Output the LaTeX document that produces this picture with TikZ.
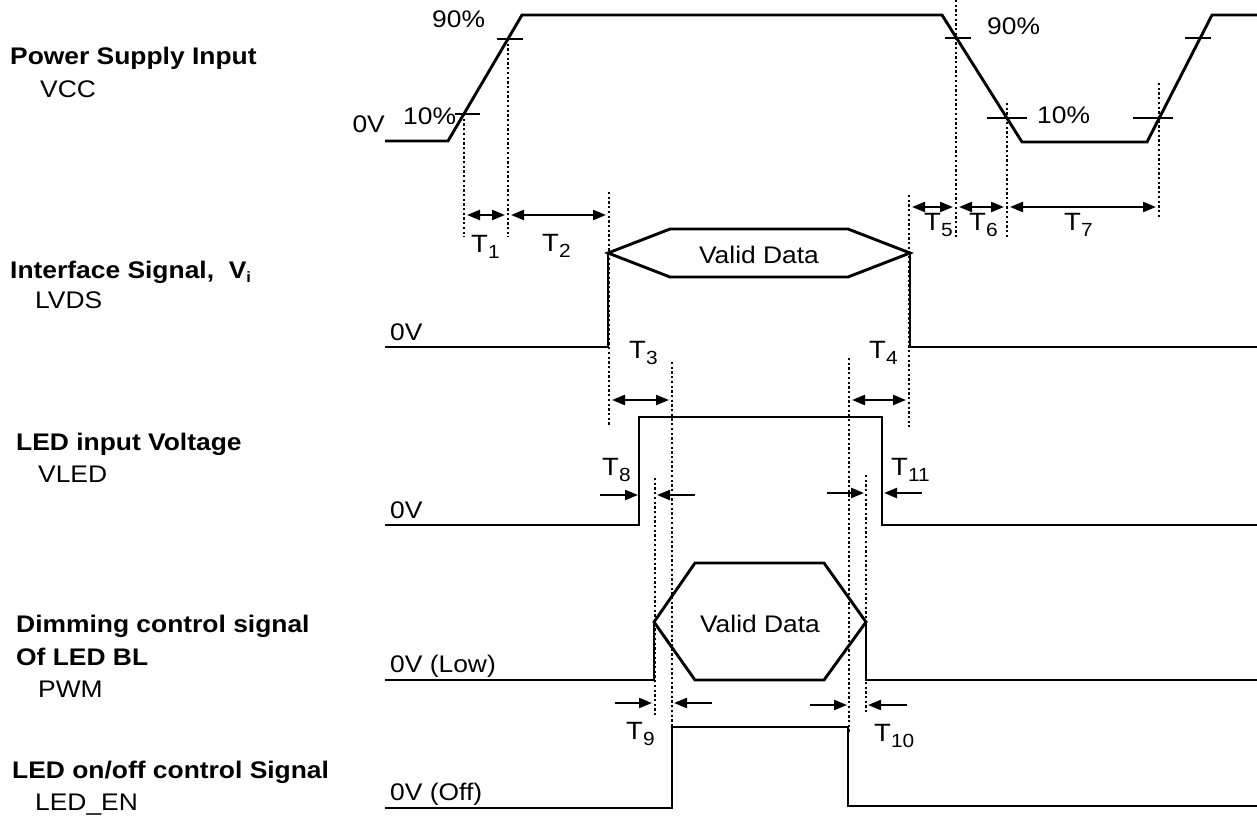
\documentclass[tikz,border=0pt]{standalone}
\usepackage{fontspec}
\setmainfont{Liberation Sans}[FakeStretch=1.1]
\usetikzlibrary{arrows.meta}
\newcommand{\Tl}[1]{{\fontsize{25}{28}\selectfont T}\raisebox{-6.5pt}{\fontsize{19}{19}\selectfont #1}}
\begin{document}
\begin{tikzpicture}[x=1pt,y=-1pt,
  sig/.style={line width=2.9pt, line join=miter},
  guide/.style={line width=2.3pt, dash pattern=on 2.3pt off 2.4pt},
  tickmark/.style={line width=2.6pt},
  dimarrow/.style={line width=2.3pt, {Triangle[length=13pt,width=10pt]}-{Triangle[length=13pt,width=10pt]}},
  onearrow/.style={line width=2.3pt, -{Triangle[length=13pt,width=10pt]}},
  txt/.style={inner sep=0pt, anchor=base west, font=\fontsize{24}{28}\selectfont},
  btxt/.style={inner sep=0pt, anchor=base west, font=\fontsize{24}{28}\selectfont\bfseries},
]
\useasboundingbox (0,0) rectangle (1257,816);

% ---- left labels
\node[btxt] (l1) at (10,64) {Power Supply Input};
\node[txt]  (l1b) at (40,97) {VCC};
\node[btxt] (l2) at (10,278) {Interface Signal,\ \ V\raisebox{-4pt}{\fontsize{15}{15}\selectfont i}};
\node[txt]  (l2b) at (35,308) {LVDS};
\node[btxt] (l3) at (16,450) {LED input Voltage};
\node[txt]  (l3b) at (38,482) {VLED};
\node[btxt] (l4) at (16,632) {Dimming control signal};
\node[btxt] (l4a) at (16,665) {Of LED BL};
\node[txt]  (l4b) at (38,697) {PWM};
\node[btxt] (l5) at (12,778) {LED on/off control Signal};
\node[txt]  (l5b) at (35,810) {LED\_EN};

% ---- level labels
\node[txt, anchor=base east] (z1) at (385,132) {0V};
\node[txt] (z2) at (390,340) {0V};
\node[txt] (z3) at (390,518) {0V};
\node[txt] (z4) at (390,672) {0V (Low)};
\node[txt] (z5) at (390,800) {0V (Off)};

\node[txt] (p90a) at (432,28) {90\%};
\node[txt] (p10a) at (403,124) {10\%};
\node[txt] (p90b) at (987,35) {90\%};
\node[txt] (p10b) at (1037,123) {10\%};

% ---- guides (dotted)
\draw[guide] (464,114) -- (464,237);
\draw[guide] (508,39) -- (508,237);
\draw[guide] (609,192) -- (609,425);
\draw[guide] (956,0) -- (956,238);
\draw[guide] (1007,103) -- (1007,238);
\draw[guide] (1159,83) -- (1159,218);
\draw[guide] (909,195) -- (909,427);
\draw[guide] (672,362) -- (672,727);
\draw[guide] (849,358) -- (849,733);
\draw[guide] (655,478) -- (655,715);
\draw[guide] (866,475) -- (866,712);

% ---- VCC
\draw[sig] (385,141) -- (448,141) -- (522,15) -- (942,15) -- (1022,142) -- (1147,142) -- (1212,15) -- (1257,15);
\draw[tickmark] (455,114) -- (480,114);
\draw[tickmark] (497,39) -- (523,39);
\draw[tickmark] (945,38) -- (971,38);
\draw[tickmark] (987,118) -- (1027,118);
\draw[tickmark] (1133,118) -- (1173,118);
\draw[tickmark] (1185,38) -- (1211,38);

% ---- Interface signal
\draw[sig] (385,347) -- (608,347) -- (608,253);
\draw[sig] (608,253) -- (670,229) -- (848,229) -- (910,253) -- (848,277) -- (670,277) -- cycle;
\draw[sig] (910,253) -- (910,347) -- (1257,347);
\node[txt, anchor=base] (vd1) at (759,263) {Valid Data};

% ---- LED input voltage
\draw[sig] (385,525) -- (639,525) -- (639,417) -- (882,417) -- (882,525) -- (1257,525);

% ---- PWM
\draw[sig] (385,680) -- (654,680) -- (654,622);
\draw[sig] (654,622) -- (695,563) -- (824,563) -- (866,622) -- (824,680) -- (695,680) -- cycle;
\draw[sig] (866,622) -- (866,680) -- (1257,680);
\node[txt, anchor=base] (vd2) at (760,632) {Valid Data};

% ---- LED_EN
\draw[sig] (385,808) -- (672,808) -- (672,727) -- (848,727) -- (848,806) -- (1257,806);

% ---- timing arrows
\draw[dimarrow] (467,215) -- (505,215);
\draw[dimarrow] (511,215) -- (606,215);
\draw[dimarrow] (912,207) -- (953,207);
\draw[dimarrow] (959,207) -- (1004,207);
\draw[dimarrow] (1010,207) -- (1156,207);
\draw[dimarrow] (612,400) -- (669,400);
\draw[dimarrow] (852,400) -- (906,400);

\draw[onearrow] (600,495) -- (638,495);
\draw[onearrow] (695,495) -- (657,495);
\draw[onearrow] (827,493) -- (864,493);
\draw[onearrow] (922,493) -- (884,493);
\draw[onearrow] (615,703) -- (652,703);
\draw[onearrow] (712,703) -- (674,703);
\draw[onearrow] (810,705) -- (847,705);
\draw[onearrow] (907,705) -- (868,705);

% ---- timing labels
\node[txt] (t1) at (471,252) {\Tl{1}};
\node[txt] (t2) at (542,251) {\Tl{2}};
\node[txt] (t3) at (629,358) {\Tl{3}};
\node[txt] (t4) at (869,358) {\Tl{4}};
\node[txt] (t5) at (924,230) {\Tl{5}};
\node[txt] (t6) at (969,230) {\Tl{6}};
\node[txt] (t7) at (1064,230) {\Tl{7}};
\node[txt] (t8) at (602,475) {\Tl{8}};
\node[txt] (t9) at (626,739) {\Tl{9}};
\node[txt] (t10) at (874,741) {\Tl{10}};
\node[txt] (t11) at (891,475) {\Tl{11}};
\end{tikzpicture}
\end{document}
